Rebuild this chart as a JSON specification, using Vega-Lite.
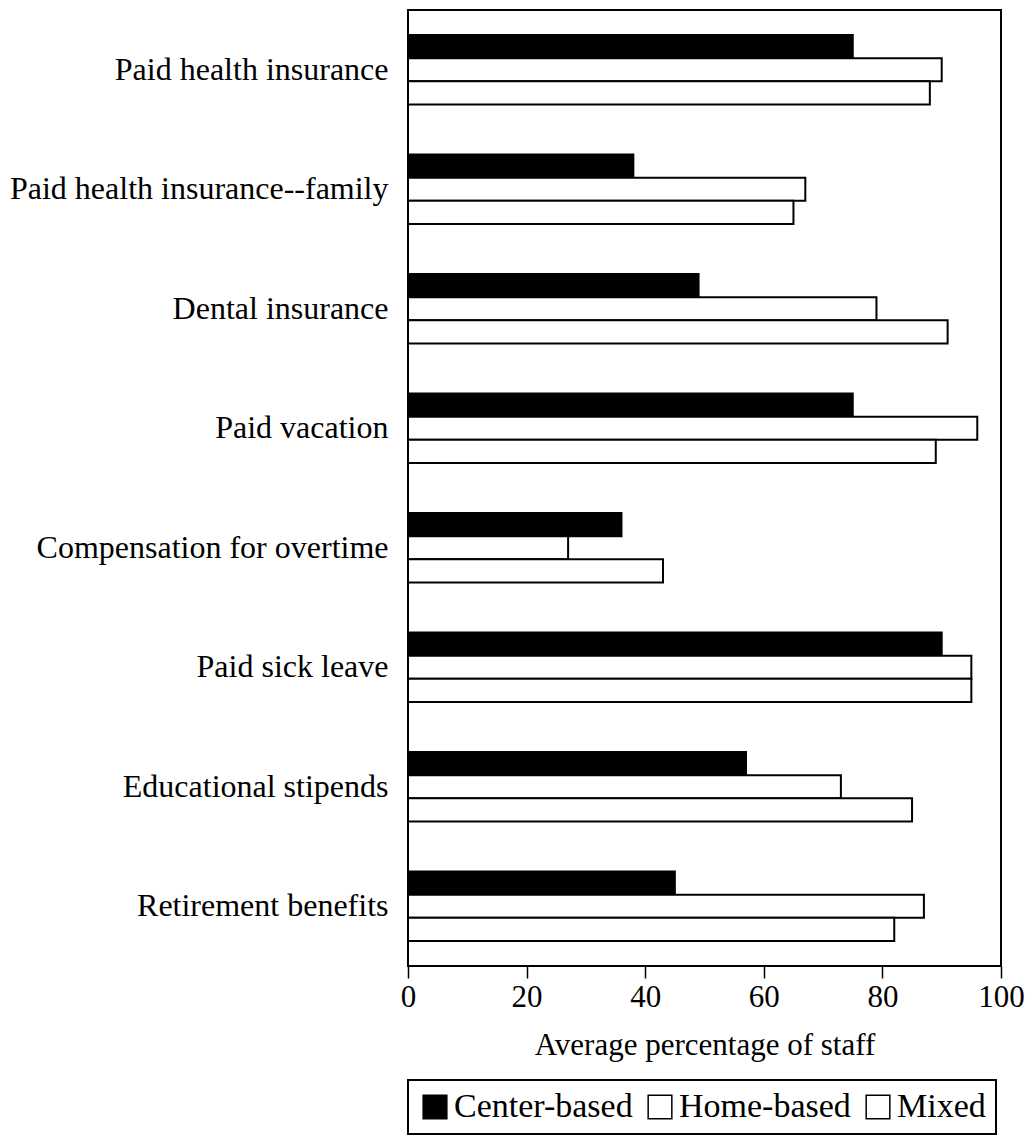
{
  "$schema": "https://vega.github.io/schema/vega-lite/v6.json",
  "autosize": {"type": "none"},
  "padding": {"left": 408, "top": 10, "right": 31, "bottom": 178},
  "width": 593,
  "height": 956,
  "background": "white",
  "config": {
    "font": "Liberation Serif",
    "view": {"stroke": "black", "strokeWidth": 2},
    "axis": {"grid": false, "domain": false, "labelFont": "Liberation Serif", "titleFont": "Liberation Serif"},
    "legend": {"labelFont": "Liberation Serif"}
  },
  "data": {
    "values": [
      {"benefit": "Paid health insurance", "type": "Center-based", "pct": 75},
      {"benefit": "Paid health insurance", "type": "Home-based", "pct": 90},
      {"benefit": "Paid health insurance", "type": "Mixed", "pct": 88},
      {"benefit": "Paid health insurance--family", "type": "Center-based", "pct": 38},
      {"benefit": "Paid health insurance--family", "type": "Home-based", "pct": 67},
      {"benefit": "Paid health insurance--family", "type": "Mixed", "pct": 65},
      {"benefit": "Dental insurance", "type": "Center-based", "pct": 49},
      {"benefit": "Dental insurance", "type": "Home-based", "pct": 79},
      {"benefit": "Dental insurance", "type": "Mixed", "pct": 91},
      {"benefit": "Paid vacation", "type": "Center-based", "pct": 75},
      {"benefit": "Paid vacation", "type": "Home-based", "pct": 96},
      {"benefit": "Paid vacation", "type": "Mixed", "pct": 89},
      {"benefit": "Compensation for overtime", "type": "Center-based", "pct": 36},
      {"benefit": "Compensation for overtime", "type": "Home-based", "pct": 27},
      {"benefit": "Compensation for overtime", "type": "Mixed", "pct": 43},
      {"benefit": "Paid sick leave", "type": "Center-based", "pct": 90},
      {"benefit": "Paid sick leave", "type": "Home-based", "pct": 95},
      {"benefit": "Paid sick leave", "type": "Mixed", "pct": 95},
      {"benefit": "Educational stipends", "type": "Center-based", "pct": 57},
      {"benefit": "Educational stipends", "type": "Home-based", "pct": 73},
      {"benefit": "Educational stipends", "type": "Mixed", "pct": 85},
      {"benefit": "Retirement benefits", "type": "Center-based", "pct": 45},
      {"benefit": "Retirement benefits", "type": "Home-based", "pct": 87},
      {"benefit": "Retirement benefits", "type": "Mixed", "pct": 82}
    ]
  },
  "mark": {"type": "bar", "stroke": "black", "strokeWidth": 2, "cornerRadius": 0},
  "encoding": {
    "y": {
      "field": "benefit",
      "type": "nominal",
      "sort": null,
      "scale": {"paddingInner": 0.42, "paddingOuter": 0.21},
      "axis": {
        "title": null,
        "ticks": false,
        "labelFont": "Liberation Serif",
        "labelFontSize": 32,
        "labelColor": "black",
        "labelPadding": 20,
        "labelLimit": 500
      }
    },
    "yOffset": {
      "field": "type",
      "type": "nominal",
      "scale": {"paddingInner": 0, "paddingOuter": 0}
    },
    "x": {
      "field": "pct",
      "type": "quantitative",
      "scale": {"domain": [0, 100], "nice": false},
      "axis": {
        "title": "Average percentage of staff",
        "titleFont": "Liberation Serif",
        "titleFontSize": 31,
        "titleFontWeight": "normal",
        "titleColor": "black",
        "titlePadding": 18,
        "values": [0, 20, 40, 60, 80, 100],
        "tickColor": "black",
        "tickSize": 12,
        "tickWidth": 1.5,
        "labelFont": "Liberation Serif",
        "labelFontSize": 31,
        "labelColor": "black",
        "labelPadding": 4,
        "labelFlush": false
      }
    },
    "fill": {
      "field": "type",
      "type": "nominal",
      "scale": {"domain": ["Center-based", "Home-based", "Mixed"], "range": ["black", "white", "white"]},
      "legend": {
        "title": null,
        "orient": "none",
        "legendX": 0,
        "legendY": 1070,
        "direction": "horizontal",
        "symbolType": "square",
        "symbolSize": 560,
        "symbolStrokeColor": "black",
        "symbolStrokeWidth": 1.5,
        "labelFont": "Liberation Serif",
        "labelFontSize": 34,
        "labelLimit": 400,
        "labelColor": "black",
        "labelOffset": 2,
        "columnPadding": 10,
        "strokeColor": "black",
        "padding": 10,
        "encode": {"legend": {"update": {"strokeWidth": {"value": 2}}}}
      }
    }
  }
}
